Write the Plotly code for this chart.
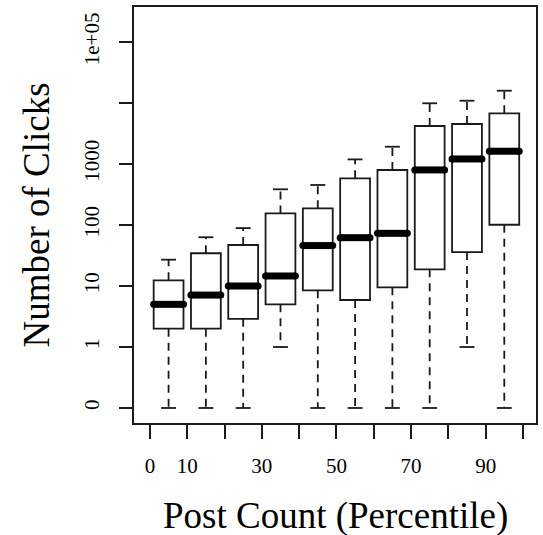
import plotly.graph_objects as go

# ---- data ----
percentile = [5, 15, 25, 35, 45, 55, 65, 75, 85, 95]
lower_whisker = [0, 0, 0, 1, 0, 0, 0, 0, 1, 0]
q1 = [2.0, 2.0, 2.9, 5.0, 8.5, 5.9, 9.5, 18.8, 36, 101]
median = [5.0, 7.1, 10, 14.6, 46, 62, 73, 800, 1210, 1620]
q3 = [12.4, 34.4, 47, 155, 188, 583, 797, 4200, 4530, 6780]
upper_whisker = [27, 63, 89, 385, 453, 1190, 1920, 9900, 10900, 15900]

x_tickvals = [0, 10, 20, 30, 40, 50, 60, 70, 80, 90, 100]
x_ticktext = ["0", "10", "", "30", "", "50", "", "70", "", "90", ""]
y_tickvals_raw = [0, 1, 10, 100, 1000, 10000, 100000]
y_ticktext = ["0", "1", "10", "100", "1000", "", "1e+05"]

ZERO_AT = 0.1  # zero counts are drawn one decade below 1 on the log axis


def pos(v):
    return v if v > 0 else ZERO_AT


BOX_W = 8.0
CAP_HALF = 2.0
MED_HALF = 4.0
INK = "#1a1a1a"
SERIF = "Liberation Serif, Times New Roman, serif"

fig = go.Figure()

# boxes (no whiskers; whiskers drawn separately in R style)
fig.add_trace(go.Box(
    x=percentile,
    q1=[pos(v) for v in q1],
    median=[pos(v) for v in median],
    q3=[pos(v) for v in q3],
    lowerfence=[pos(v) for v in q1],
    upperfence=[pos(v) for v in q3],
    width=BOX_W,
    whiskerwidth=0,
    fillcolor="white",
    line=dict(color=INK, width=1.8),
    boxpoints=False,
    showlegend=False,
    hoverinfo="skip",
))

# dashed whiskers
wx, wy = [], []
for x, a, b, c, d in zip(percentile, lower_whisker, q1, q3, upper_whisker):
    wx += [x, x, None, x, x, None]
    wy += [pos(b), pos(a), None, pos(c), pos(d), None]
fig.add_trace(go.Scatter(x=wx, y=wy, mode="lines",
                         line=dict(color=INK, width=1.8, dash="8px,6px"),
                         showlegend=False, hoverinfo="skip"))

# whisker caps
cx, cy = [], []
for x, a, d in zip(percentile, lower_whisker, upper_whisker):
    cx += [x - CAP_HALF, x + CAP_HALF, None, x - CAP_HALF, x + CAP_HALF, None]
    cy += [pos(a), pos(a), None, pos(d), pos(d), None]
fig.add_trace(go.Scatter(x=cx, y=cy, mode="lines",
                         line=dict(color=INK, width=1.8),
                         showlegend=False, hoverinfo="skip"))

# thick medians with rounded ends
mx, my = [], []
for x, m in zip(percentile, median):
    mx += [x - MED_HALF, x + MED_HALF, None]
    my += [pos(m), pos(m), None]
fig.add_trace(go.Scatter(x=mx, y=my, mode="lines+markers",
                         line=dict(color="black", width=7),
                         marker=dict(color="black", size=7),
                         showlegend=False, hoverinfo="skip"))

fig.update_layout(
    width=543, height=535,
    margin=dict(l=134, r=5, t=7, b=112),
    plot_bgcolor="white", paper_bgcolor="white",
    font=dict(family=SERIF, color="black", size=21),
    showlegend=False,
    xaxis=dict(
        range=[-4.27, 103.5],
        tickmode="array", tickvals=x_tickvals, ticktext=x_ticktext,
        ticks="outside", ticklen=14, tickwidth=1.8, tickcolor=INK,
        showline=True, linecolor=INK, linewidth=1.8, mirror=True,
        showgrid=False, zeroline=False,
        tickfont=dict(family=SERIF, size=21, color="black"),
        ticklabelstandoff=9,
    ),
    yaxis=dict(
        type="log",
        range=[-1.246, 5.574],
        tickmode="array", tickvals=[pos(v) for v in y_tickvals_raw], ticktext=y_ticktext,
        ticks="outside", ticklen=13, tickwidth=1.8, tickcolor=INK,
        showline=True, linecolor=INK, linewidth=1.8, mirror=True,
        showgrid=False, zeroline=False,
        tickangle=-90,
        tickfont=dict(family=SERIF, size=21, color="black"),
        ticklabelstandoff=12,
    ),
    annotations=[
        dict(text="Number of Clicks", xref="paper", yref="paper",
             x=-0.2426, y=0.5, xanchor="center", yanchor="middle",
             textangle=-90, showarrow=False,
             font=dict(family=SERIF, size=37, color="black")),
        dict(text="Post Count (Percentile)", xref="paper", yref="paper",
             x=0.5, y=-0.2236, xanchor="center", yanchor="middle",
             showarrow=False,
             font=dict(family=SERIF, size=37, color="black")),
    ],
)

fig.write_html("out.html")
